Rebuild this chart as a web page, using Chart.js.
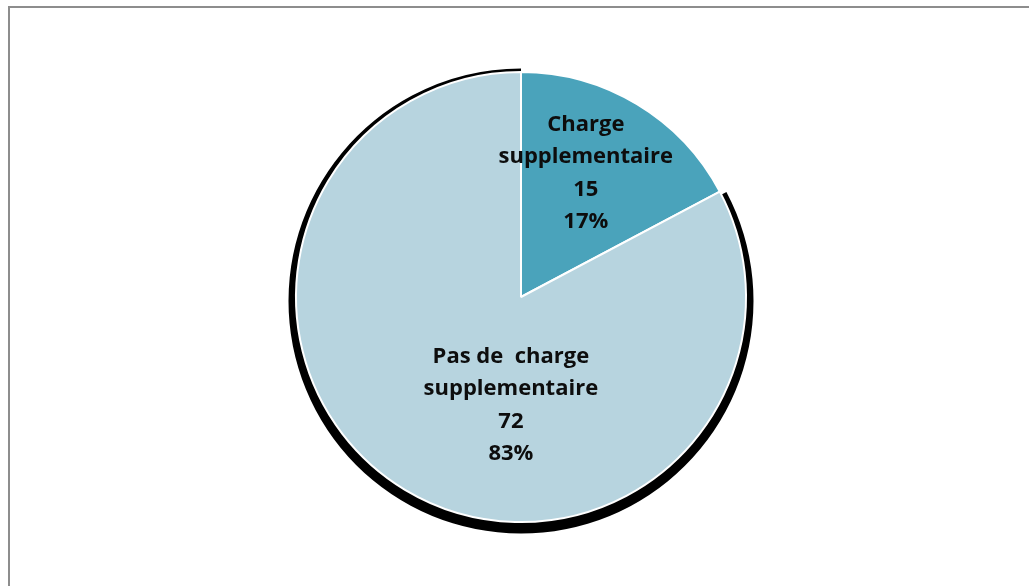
<!DOCTYPE html>
<html>
<head>
<meta charset="utf-8">
<script src="https://cdn.jsdelivr.net/npm/chart.js@4/dist/chart.umd.min.js"></script>
<style>
html,body{margin:0;padding:0;background:#fff;overflow:hidden;}
#frame{position:absolute;left:8px;top:6px;width:1040px;height:600px;border:2px solid #8d8d8d;box-sizing:border-box;}
#wrap{position:absolute;left:0;top:0;width:1029px;height:586px;}
</style>
</head>
<body>
<div id="frame"></div>
<div id="wrap"><canvas id="myChart"></canvas></div>
<script>
var categories=[["Charge","supplementaire"],["Pas de  charge","supplementaire"]];
var counts=[15,72];
var sliceColors=['#4aa3bb','#b7d4df'];

// where each label block sits, as a fraction of the radius from the centre
var labelSpots=[[0.288,-0.551],[-0.045,0.482]];

var total=counts.reduce(function(a,b){return a+b;},0);

// black drop shadow behind the large slice only
var sliceShadow={
id:'sliceShadow',
beforeDatasetsDraw:function(chart){
var arc=chart.getDatasetMeta(0).data[1];
if(!arc)return;
var p=arc.getProps(['x','y','startAngle','endAngle','outerRadius'],true);
var ctx=chart.ctx;
ctx.save();
ctx.fillStyle='#000';
ctx.beginPath();
ctx.moveTo(p.x,p.y+4);
ctx.arc(p.x,p.y+4,p.outerRadius+7.5,p.startAngle,p.endAngle);
ctx.closePath();
ctx.fill();
ctx.restore();
}
};

// category, count and percentage written inside each slice
var sliceLabels={
id:'sliceLabels',
afterDatasetsDraw:function(chart){
var ctx=chart.ctx;
var meta=chart.getDatasetMeta(0);
ctx.save();
ctx.font='bold 22px "Open Sans", sans-serif';
ctx.fillStyle='#0d0d0d';
ctx.textAlign='center';
ctx.textBaseline='middle';
meta.data.forEach(function(arc,i){
var p=arc.getProps(['x','y','outerRadius'],true);
var cx=p.x+labelSpots[i][0]*p.outerRadius;
var cy=p.y+labelSpots[i][1]*p.outerRadius;
var lines=categories[i].concat([String(counts[i]),Math.round(counts[i]/total*100)+'%']);
var lh=32.5;
var top=cy-(lines.length-1)*lh/2;
lines.forEach(function(t,k){ctx.fillText(t,cx,top+k*lh);});
});
ctx.restore();
}
};

var myChart=document.getElementById("myChart").getContext('2d');
var chart=new Chart(myChart,{
type:'pie',
data:{
labels:categories.map(function(c){return c.join(' ');}),
datasets:[{
data:counts,
backgroundColor:sliceColors,
borderColor:'#ffffff',
borderWidth:2
}]
},
options:{
responsive:true,
maintainAspectRatio:false,
animation:false,
layout:{padding:{top:71,bottom:63,left:13,right:0}},
plugins:{legend:{display:false},tooltip:{enabled:false}}
},
plugins:[sliceShadow,sliceLabels]
});
</script>
</body>
</html>
